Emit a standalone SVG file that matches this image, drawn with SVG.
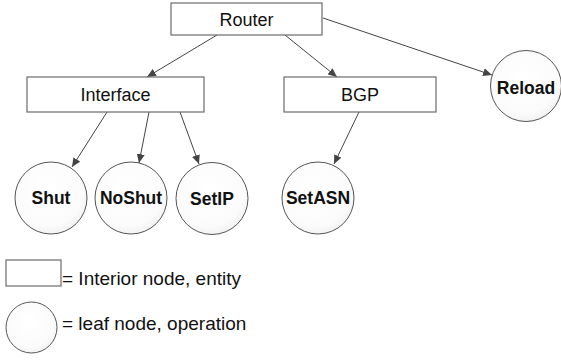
<svg xmlns="http://www.w3.org/2000/svg" width="561" height="360" viewBox="0 0 561 360">
<style>
.box{fill:#fff;stroke:#6b6b6b;stroke-width:1.2}
.leaf{fill:url(#g);stroke:#555;stroke-width:1}
.t{font-family:"Liberation Sans",Arial,sans-serif;font-size:18px;fill:#111;text-anchor:middle}
.b{font-family:"Liberation Sans",Arial,sans-serif;font-size:17.5px;font-weight:bold;fill:#111;text-anchor:middle}
.l{font-family:"Liberation Sans",Arial,sans-serif;font-size:19px;fill:#111}
.c{stroke:#444;stroke-width:1;fill:none;marker-end:url(#a)}
</style>
<defs>
<radialGradient id="g" cx="0.45" cy="0.4" r="0.7">
<stop offset="0" stop-color="#ffffff"/>
<stop offset="0.7" stop-color="#fbfbfb"/>
<stop offset="1" stop-color="#ebebeb"/>
</radialGradient>
<marker id="a" markerWidth="10" markerHeight="8" refX="9" refY="4" orient="auto" markerUnits="userSpaceOnUse">
<path d="M0,0 L9,4 L0,8 Z" fill="#444"/>
</marker>
</defs>
<g id="connectors">
<line class="c" x1="217" y1="35" x2="147" y2="77"/>
<line class="c" x1="285" y1="35" x2="337" y2="77"/>
<line class="c" x1="323" y1="18" x2="492" y2="75"/>
<line class="c" x1="107" y1="112" x2="72" y2="167"/>
<line class="c" x1="149" y1="112" x2="139" y2="163"/>
<line class="c" x1="180" y1="112" x2="199" y2="164"/>
<line class="c" x1="359" y1="112" x2="334" y2="164"/>
</g>
<g id="router"><rect class="box" x="171" y="3" width="151" height="32"/><text class="t" x="246.5" y="25.5">Router</text></g>
<g id="interface"><rect class="box" x="27" y="77" width="177" height="35"/><text class="t" x="115.5" y="101">Interface</text></g>
<g id="bgp"><rect class="box" x="284" y="77" width="152" height="35"/><text class="t" x="360" y="101">BGP</text></g>
<g id="reload"><circle class="leaf" cx="526" cy="86" r="35.5"/><text class="b" x="526" y="94">Reload</text></g>
<g id="shut"><circle class="leaf" cx="51" cy="198" r="36"/><text class="b" x="51" y="204">Shut</text></g>
<g id="noshut"><circle class="leaf" cx="131" cy="198" r="36"/><text class="b" x="131" y="204">NoShut</text></g>
<g id="setip"><circle class="leaf" cx="212" cy="198.5" r="36"/><text class="b" x="212" y="205">SetIP</text></g>
<g id="setasn"><circle class="leaf" cx="318" cy="198" r="36"/><text class="b" x="318" y="204">SetASN</text></g>
<g id="legend">
<rect class="box" x="6" y="260" width="55" height="26"/>
<text class="l" x="62" y="285">= Interior node, entity</text>
<circle class="leaf" cx="31.5" cy="327.5" r="25.5"/>
<text class="l" x="62" y="330">= leaf node, operation</text>
</g>
</svg>
